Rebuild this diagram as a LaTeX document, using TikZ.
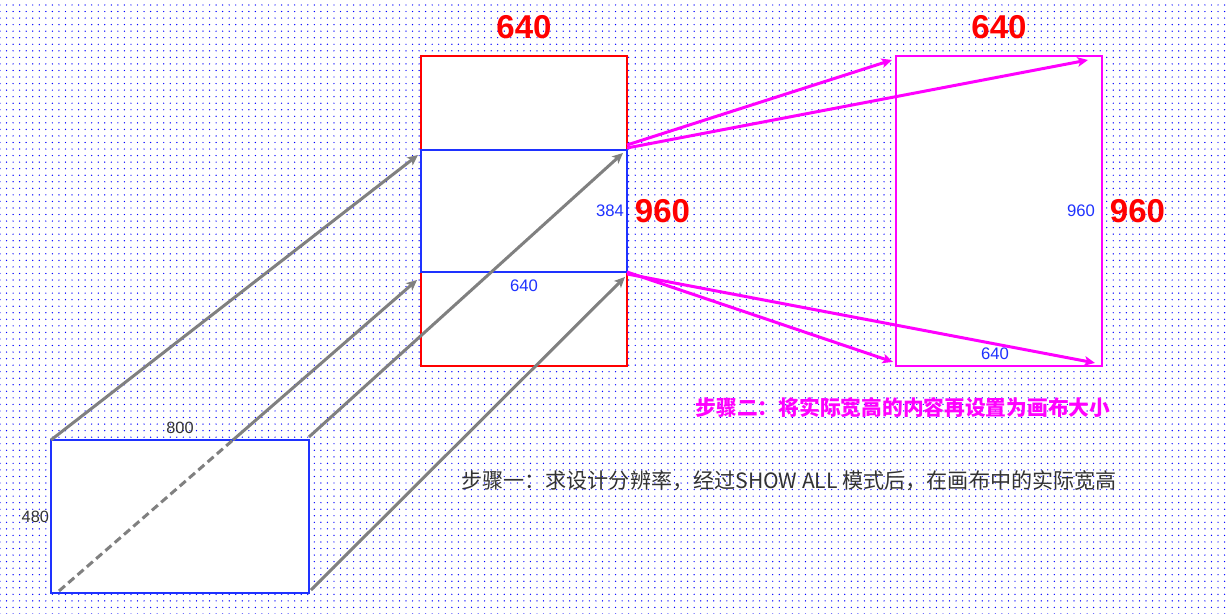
\documentclass[tikz,border=0pt]{standalone}
\usepackage{fontspec}
\setmainfont{Liberation Sans}
\newfontfamily\cjk{Noto Sans CJK SC}
\usepackage{tikz}
\usetikzlibrary{positioning, arrows.meta, patterns.meta}
\definecolor{rojo}{RGB}{255,0,0}
\definecolor{azul}{RGB}{30,50,255}
\definecolor{rosa}{RGB}{255,0,255}
\definecolor{gris}{RGB}{128,128,128}
\definecolor{oscuro}{RGB}{51,51,51}
\definecolor{puntos}{RGB}{0,0,255}
\tikzset{
    caja/.style={rectangle, draw, fill=white, line width=1.1pt, inner sep=0pt, outer sep=0pt, anchor=north west},
    caja_lienzo/.style={caja, draw=rojo, minimum width=4.12cm, minimum height=6.2cm},
    caja_contenido/.style={caja, draw=azul, minimum width=4.12cm, minimum height=2.44cm},
    caja_destino/.style={caja, draw=rosa, minimum width=4.12cm, minimum height=6.2cm},
    caja_diseno/.style={caja, draw=azul, minimum width=5.16cm, minimum height=3.06cm},
    flecha_gris/.style={-{Stealth[length=6pt, width=5.5pt, inset=1.5pt]}, line width=1.7pt, draw=gris},
    flecha_rosa/.style={-{Stealth[length=6pt, width=5.5pt, inset=1.5pt]}, line width=1.7pt, draw=rosa}
}

\begin{document}
\begin{tikzpicture}[
        x=0.02cm, y=-0.02cm,
        % Estilo base para los numeros
        num/.style={inner sep=0pt, outer sep=0pt},
        num_rojo/.style={num, text=rojo, font=\bfseries\fontsize{18.8}{20}\selectfont},
        num_azul/.style={num, text=azul, font=\fontsize{9.5}{11}\selectfont},
        num_gris/.style={num, text=oscuro, font=\fontsize{9.3}{11}\selectfont},
        % Textos de los pasos
        texto_rosa/.style={inner sep=0pt, text=rosa, font=\cjk\bfseries\fontsize{11.8}{14}\selectfont},
        texto_gris/.style={inner sep=0pt, text=oscuro, font=\cjk\fontsize{12}{14}\selectfont}
    ]

    % Fondo con rejilla de puntos
    \useasboundingbox (0,0) rectangle (1230,614);
    \fill[white] (0,0) rectangle (1230,614);
    \fill[pattern={Dots[distance=0.131cm, radius=0.4pt]}, pattern color=puntos] (0,0) rectangle (1230,614);

    % 1. Cajas
    \node[caja_lienzo] (lienzo) at (421,56) {};
    \node[caja_contenido] (contenido) at (421,150) {};
    \node[caja_destino] (destino) at (896,56) {};
    \node[caja_diseno] (diseno) at (51,440) {};

    % 2. Medidas
    \node[num_rojo, above=0.34cm of lienzo] (ancho_lienzo) {640};
    \node[num_rojo, right=0.16cm of lienzo] (alto_lienzo) {960};
    \node[num_azul, left=0.06cm of contenido.east] (alto_contenido) {384};
    \node[num_azul, below=0.15cm of contenido] (ancho_contenido) {640};

    \node[num_rojo, above=0.34cm of destino] (ancho_destino) {640};
    \node[num_rojo, right=0.16cm of destino] (alto_destino) {960};
    \node[num_azul, left=0.14cm of destino.east] (alto_destino2) {960};
    \node[num_azul, above=0.13cm of destino.south, xshift=-0.08cm] (ancho_destino2) {640};

    \node[num_gris, above=0.12cm of diseno] (ancho_diseno) {800};
    \node[num_gris, left=0.04cm of diseno] (alto_diseno) {480};

    % 3. Pasos
    \node[texto_rosa] (paso2) at (903,408) {步骤二：将实际宽高的内容再设置为画布大小};
    \node[texto_gris] (paso1) at (789,481) {步骤一：求设计分辨率，经过SHOW ALL 模式后，在画布中的实际宽高};

    % --- CONEXIONES ---

    % Diagonal discontinua dentro del diseno
    \coordinate (cruce) at ([xshift=3.64cm]diseno.north west);
    \draw[gris, line width=1.7pt, dash pattern=on 4.5pt off 2.5pt] ([xshift=0.16cm, yshift=0.04cm]diseno.south west) -- (cruce);

    % Esquinas del diseno a las esquinas del contenido
    \draw[flecha_gris] (diseno.north west) -- ([xshift=-0.06cm, yshift=-0.1cm]contenido.north west);
    \draw[flecha_gris] (cruce) -- ([xshift=-0.08cm, yshift=-0.16cm]contenido.south west);
    \draw[flecha_gris] ([yshift=0.06cm]diseno.north east) -- ([xshift=-0.08cm, yshift=-0.06cm]contenido.north east);
    \draw[flecha_gris] ([xshift=0.04cm, yshift=0.06cm]diseno.south east) -- ([xshift=-0.04cm, yshift=-0.1cm]contenido.south east);

    % Del contenido al destino
    \draw[flecha_rosa] ([yshift=0.1cm]contenido.north east) -- ([xshift=-0.08cm, yshift=-0.08cm]destino.north west);
    \draw[flecha_rosa] ([yshift=0.04cm]contenido.north east) -- ([xshift=-0.28cm, yshift=-0.08cm]destino.north east);
    \draw[flecha_rosa] (contenido.south east) -- ([xshift=-0.06cm, yshift=0.08cm]destino.south west);
    \draw[flecha_rosa] ([yshift=-0.04cm]contenido.south east) -- ([xshift=-0.14cm, yshift=0.06cm]destino.south east);

\end{tikzpicture}
\end{document}
